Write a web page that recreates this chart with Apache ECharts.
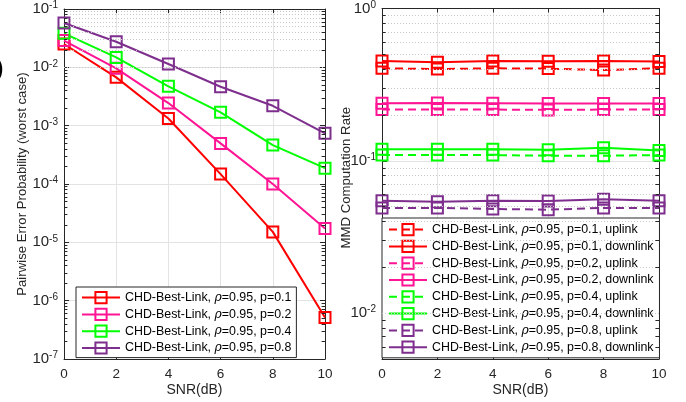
<!DOCTYPE html>
<html><head><meta charset="utf-8">
<script src="https://cdn.jsdelivr.net/npm/echarts@6/dist/echarts.min.js"></script>
<style>html,body{margin:0;padding:0;background:#fff}#c{width:686px;height:402px}</style>
</head><body><div id="c"></div>
<script>
const snr = [0, 2, 4, 6, 8, 10];
const xTicks = [0, 2, 4, 6, 8, 10];

// Left: pairwise error probability (worst case)
const pepP01 = [0.0251, 0.00673, 0.00133, 0.000148, 1.51e-5, 5.15e-7];
const pepP02 = [0.0287, 0.0096, 0.00244, 0.000497, 1.0e-4, 1.73e-5];
const pepP04 = [0.0383, 0.0148, 0.00472, 0.00169, 0.000464, 0.000187];
const pepP08 = [0.0575, 0.0275, 0.0114, 0.00465, 0.00219, 0.00074];

// Right: MMD computation rate
const upP01 = [0.405, 0.400, 0.405, 0.403, 0.394, 0.405];
const downP01 = [0.453, 0.444, 0.452, 0.450, 0.452, 0.448];
const upP02 = [0.217, 0.217, 0.217, 0.216, 0.217, 0.217];
const downP02 = [0.239, 0.240, 0.239, 0.238, 0.238, 0.238];
const upP04 = [0.109, 0.109, 0.109, 0.108, 0.108, 0.109];
const downP04 = [0.119, 0.119, 0.119, 0.118, 0.122, 0.117];
const upP08 = [0.0491, 0.0491, 0.0483, 0.0478, 0.0491, 0.0491];
const downP08 = [0.0547, 0.0538, 0.0547, 0.0545, 0.0560, 0.0547];

const leftYTicks = [1e-7, 1e-6, 1e-5, 1e-4, 1e-3, 1e-2, 1e-1];
const rightYTicks = [1e-2, 1e-1, 1e0];

const RED = '#FF0000', PINK = '#FF1493', GREEN = '#00FF00', PURPLE = '#7E2F8E';
const INK = '#262626';
const FONT = 'Liberation Sans';

function minorVals(kFrom, kTo, lo, hi) {
  const out = [];
  for (let k = kFrom; k <= kTo; k++) for (let m = 2; m <= 9; m++) {
    const v = m * Math.pow(10, k);
    if (v > lo && v < hi) out.push(v);
  }
  return out;
}
const leftMinor = minorVals(-7, -2, 1e-7, 1e-1);
const rightMinor = minorVals(-3, -1, 0.005, 1);

function pow10Label(v) {
  const e = Math.round(Math.log10(v));
  if (Math.abs(v / Math.pow(10, e) - 1) > 1e-6) return '';
  return '{base|10}{sup|' + e + '}';
}

const labelRich = {
  base: {fontSize: 15, fontFamily: FONT, color: INK, lineHeight: 17},
  sup: {fontSize: 10, fontFamily: FONT, color: INK, verticalAlign: 'top', lineHeight: 11, padding: [0, 0, 7, 0]}
};

function mkSeries(name, data, color, dashed, xi, yi, extra) {
  const s = {
    name, type: 'line', xAxisIndex: xi, yAxisIndex: yi,
    data: snr.map((x, i) => [x, data[i]]),
    symbol: 'rect', symbolSize: 11,
    color: color,
    lineStyle: {color, width: 2, type: dashed ? [8, 5] : 'solid'},
    itemStyle: {color: 'rgba(255,255,255,0)', borderColor: color, borderWidth: 2},
    emphasis: {disabled: true}, animation: false, z: 3
  };
  return Object.assign(s, extra || {});
}

// dotted minor grid lines plus short inward minor ticks on both vertical edges
function minorMark(vals) {
  const grid = vals.map(v => ({yAxis: v}));
  const tickL = vals.map(v => [{coord: [0, v]}, {coord: [0.13, v], lineStyle: {type: 'solid', color: INK, width: 1}}]);
  const tickR = vals.map(v => [{coord: [9.87, v]}, {coord: [10, v], lineStyle: {type: 'solid', color: INK, width: 1}}]);
  return {
    silent: true, symbol: 'none', animation: false,
    label: {show: false},
    lineStyle: {color: '#c8c8c8', type: [1, 2], width: 1},
    data: grid.concat(tickL, tickR)
  };
}

const nameL = 'CHD-Best-Link, ρ=0.95, ';
const series = [
  mkSeries(nameL + 'p=0.1', pepP01, RED, false, 0, 0, {markLine: minorMark(leftMinor)}),
  mkSeries(nameL + 'p=0.2', pepP02, PINK, false, 0, 0),
  mkSeries(nameL + 'p=0.4', pepP04, GREEN, false, 0, 0),
  mkSeries(nameL + 'p=0.8', pepP08, PURPLE, false, 0, 0),
  mkSeries(nameL + 'p=0.1, uplink', upP01, RED, true, 2, 2, {markLine: minorMark(rightMinor)}),
  mkSeries(nameL + 'p=0.1, downlink', downP01, RED, false, 2, 2),
  mkSeries(nameL + 'p=0.2, uplink', upP02, PINK, true, 2, 2),
  mkSeries(nameL + 'p=0.2, downlink', downP02, PINK, false, 2, 2),
  mkSeries(nameL + 'p=0.4, uplink', upP04, GREEN, true, 2, 2),
  mkSeries(nameL + 'p=0.4, downlink', downP04, GREEN, false, 2, 2),
  mkSeries(nameL + 'p=0.8, uplink', upP08, PURPLE, true, 2, 2),
  mkSeries(nameL + 'p=0.8, downlink', downP08, PURPLE, false, 2, 2)
];

function xAxisBottom(gi) {
  return {
    type: 'value', gridIndex: gi, min: 0, max: 10, interval: 2, position: 'bottom',
    name: 'SNR(dB)', nameLocation: 'middle', nameGap: 24, nameMoveOverlap: false,
    nameTextStyle: {fontFamily: FONT, fontSize: 14, color: INK},
    axisLine: {show: true, onZero: false, lineStyle: {color: INK, width: 1}},
    axisTick: {show: true, inside: true, length: 4, lineStyle: {color: INK}},
    axisLabel: {fontFamily: FONT, fontSize: 13.5, color: INK, margin: 8},
    splitLine: {show: true, lineStyle: {color: '#e3e3e3', width: 1}}
  };
}
function xAxisTop(gi) {
  return {
    type: 'value', gridIndex: gi, min: 0, max: 10, interval: 2, position: 'top',
    axisLine: {show: true, onZero: false, lineStyle: {color: INK, width: 1}},
    axisTick: {show: true, inside: true, length: 4, lineStyle: {color: INK}},
    axisLabel: {show: false}, splitLine: {show: false}
  };
}
function yAxisLeft(gi, min, max, name) {
  return {
    type: 'log', logBase: 10, gridIndex: gi, min, max, position: 'left',
    name, nameLocation: 'middle', nameGap: gi === 0 ? 35 : 29, nameMoveOverlap: false,
    nameTextStyle: {fontFamily: FONT, fontSize: 13.2, color: INK,
      padding: gi === 0 ? 0 : [0, 0, 0, 12]},
    axisLine: {show: true, onZero: false, lineStyle: {color: INK, width: 1}},
    axisTick: {show: true, inside: true, length: 5, lineStyle: {color: INK}},
    axisLabel: {formatter: pow10Label, rich: labelRich, fontFamily: FONT, fontSize: 15, color: INK, margin: 6, showMinLabel: true},
    splitLine: {show: true, lineStyle: {color: '#e3e3e3', width: 1}}
  };
}
function yAxisRight(gi, min, max) {
  return {
    type: 'log', logBase: 10, gridIndex: gi, min, max, position: 'right',
    axisLine: {show: true, onZero: false, lineStyle: {color: INK, width: 1}},
    axisTick: {show: true, inside: true, length: 5, lineStyle: {color: INK}},
    axisLabel: {show: false}, splitLine: {show: false}
  };
}

const legendBase = {
  orient: 'vertical', itemWidth: 38, itemHeight: 14, itemGap: 3.6,
  backgroundColor: '#fff', borderColor: INK, borderWidth: 1, borderRadius: 0,
  selectedMode: false,
  textStyle: {fontFamily: FONT, fontSize: 12.4, color: '#000', padding: [0, 0, 0, 0],
    rich: {r: {fontFamily: 'DejaVu Serif', fontStyle: 'italic', fontSize: 12.4, color: '#000'}}},
  formatter: n => n.replace('ρ', '{r|ρ}')
};

const option = {
  animation: false,
  backgroundColor: '#fff',
  grid: [
    {left: 64, top: 9, width: 261, height: 351, containLabel: false},
    {left: 382, top: 7, width: 277, height: 352, containLabel: false}
  ],
  xAxis: [xAxisBottom(0), xAxisTop(0), xAxisBottom(1), xAxisTop(1)],
  yAxis: [
    yAxisLeft(0, 1e-7, 1e-1, 'Pairwise Error Probability (worst case)'),
    yAxisRight(0, 1e-7, 1e-1),
    yAxisLeft(1, 0.005, 1, 'MMD Computation Rate'),
    yAxisRight(1, 0.005, 1)
  ],
  legend: [
    Object.assign({}, legendBase, {left: 76, top: 287, padding: [4, 5, 3, 5],
      data: series.slice(0, 4).map(s => s.name)}),
    Object.assign({}, legendBase, {left: 382, top: 218, padding: [5, 6, 4, 6],
      data: series.slice(4).map(s => s.name)})
  ],
  graphic: [
    {type: 'text', left: -4, top: 58, style: {text: ')', fontFamily: FONT, fontSize: 22, fontWeight: 'bold', fill: '#000'}}
  ],
  series
};
const chart = echarts.init(document.getElementById('c'), null, {renderer: 'canvas'});
chart.setOption(option);
</script></body></html>
